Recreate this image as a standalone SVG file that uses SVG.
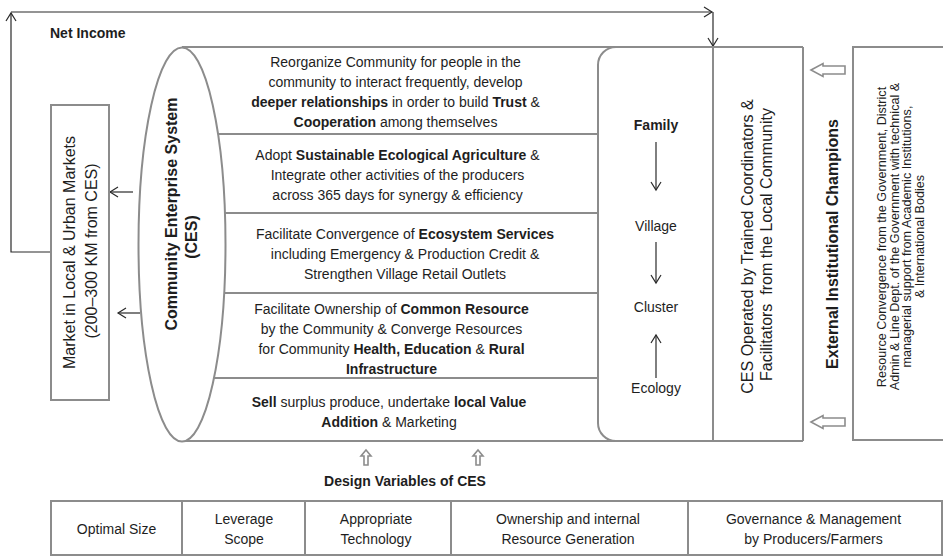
<svg xmlns="http://www.w3.org/2000/svg" width="943" height="557" viewBox="0 0 943 557">
  <style>
    .bd { fill: none; stroke: #8c8c8c; stroke-width: 2; }
    .bw { fill: #ffffff; stroke: #8c8c8c; stroke-width: 2; }
    .ho { fill: #ffffff; stroke: #8c8c8c; stroke-width: 1.6; stroke-linejoin: miter; }
    .cn { fill: none; stroke: #2a2a2a; stroke-width: 1.2; }
    .t { font-family: "Liberation Sans", Arial, Helvetica, sans-serif; font-size: 14px; fill: #1e1e1e; }
    .c { text-anchor: middle; }
    .b { font-weight: bold; }
    .l16 { font-size: 16px; }
    .s { font-size: 12.6px; }
  </style>
  <defs>
    <marker id="open" viewBox="0 0 9 12" refX="8.5" refY="6" markerWidth="9" markerHeight="12" markerUnits="userSpaceOnUse" orient="auto" overflow="visible">
      <path d="M0.5,1 L8.5,6 L0.5,11" fill="none" stroke="#2a2a2a" stroke-width="1.2"/>
    </marker>
  </defs>
  <rect width="943" height="557" fill="#ffffff"/>

  <!-- connectors -->
  <g id="connectors">
    <polyline class="cn" points="51,252 11,252 11,13" marker-end="url(#open)"/>
    <line class="cn" x1="11" y1="12" x2="712" y2="12" marker-end="url(#open)"/>
    <line class="cn" x1="713" y1="12" x2="713" y2="46" marker-end="url(#open)"/>
    <line class="cn" x1="133" y1="192" x2="110" y2="192" marker-end="url(#open)"/>
    <line class="cn" x1="140" y1="313" x2="118" y2="313" marker-end="url(#open)"/>
    <line class="cn" x1="656" y1="142" x2="656" y2="190" marker-end="url(#open)"/>
    <line class="cn" x1="656" y1="242" x2="656" y2="283" marker-end="url(#open)"/>
    <line class="cn" x1="656" y1="378" x2="656" y2="335" marker-end="url(#open)"/>
    <!-- hollow block arrows -->
    <path class="ho" d="M811,70 L823,63.5 L823,66 L845,66 L845,74 L823,74 L823,76.5 Z"/>
    <path class="ho" d="M811,422 L823,415.5 L823,418 L845,418 L845,426 L823,426 L823,428.5 Z"/>
    <path class="ho" d="M366,450 L371,456 L368,456 L368,465 L364,465 L364,456 L361,456 Z"/>
    <path class="ho" d="M478,450 L483,456 L480,456 L480,465 L476,465 L476,456 L473,456 Z"/>
  </g>

  <text class="t b" x="50" y="38">Net Income</text>

  <!-- market box -->
  <g id="market">
    <rect class="bd" x="51" y="105" width="58" height="295"/>
    <text class="t c l16" transform="translate(74.5,252.5) rotate(-90)">Market in Local &amp; Urban Markets</text>
    <text class="t c l16" transform="translate(97,251) rotate(-90)">(200–300 KM from CES)</text>
  </g>

  <!-- community enterprise system cylinder -->
  <g id="ces">
    <line class="bd" x1="182" y1="47" x2="803" y2="47"/>
    <line class="bd" x1="182" y1="441" x2="803" y2="441"/>
    <line class="bd" x1="182" y1="134" x2="598" y2="134"/>
    <line class="bd" x1="182" y1="213" x2="598" y2="213"/>
    <line class="bd" x1="182" y1="293" x2="598" y2="293"/>
    <line class="bd" x1="182" y1="378" x2="598" y2="378"/>
    <ellipse class="bw" cx="182" cy="244.5" rx="43.5" ry="197"/>
    <text class="t c b l16" transform="translate(177,214) rotate(-90)">Community Enterprise System</text>
    <text class="t c b l16" transform="translate(197,237) rotate(-90)">(CES)</text>
  </g>

  <g id="activity-1">
    <text class="t c" x="395.5" y="66.5">Reorganize Community for people in the</text>
    <text class="t c" x="395.5" y="86.5">community to interact frequently, develop</text>
    <text class="t c" x="395.5" y="106.5"><tspan class="b">deeper relationships</tspan> in order to build <tspan class="b">Trust</tspan> &amp;</text>
    <text class="t c" x="395.5" y="126.5"><tspan class="b">Cooperation</tspan> among themselves</text>
  </g>
  <g id="activity-2">
    <text class="t c" x="397.5" y="160">Adopt <tspan class="b">Sustainable Ecological Agriculture</tspan> &amp;</text>
    <text class="t c" x="397.5" y="180">Integrate other activities of the producers</text>
    <text class="t c" x="397.5" y="199.5">across 365 days for synergy  &amp; efficiency</text>
  </g>
  <g id="activity-3">
    <text class="t c" x="405" y="239">Facilitate Convergence of <tspan class="b">Ecosystem Services</tspan></text>
    <text class="t c" x="405" y="259">including Emergency &amp; Production Credit &amp;</text>
    <text class="t c" x="405" y="278.5">Strengthen Village Retail Outlets</text>
  </g>
  <g id="activity-4">
    <text class="t c" x="391.5" y="314">Facilitate Ownership of <tspan class="b">Common Resource</tspan></text>
    <text class="t c" x="391.5" y="334">by the Community &amp; Converge Resources</text>
    <text class="t c" x="391.5" y="354">for Community <tspan class="b">Health, Education</tspan> &amp; <tspan class="b">Rural</tspan></text>
    <text class="t c" x="391.5" y="373.5" font-weight="bold">Infrastructure</text>
  </g>
  <g id="activity-5">
    <text class="t c" x="389" y="407"><tspan class="b">Sell</tspan> surplus produce, undertake <tspan class="b">local Value</tspan></text>
    <text class="t c" x="389" y="427"><tspan class="b">Addition</tspan> &amp; Marketing</text>
  </g>

  <!-- scale column -->
  <g id="scale">
    <path class="bd" d="M616,47 A18,18 0 0 0 598,65 L598,423 A18,18 0 0 0 616,441"/>
    <text class="t c b" x="656" y="130">Family</text>
    <text class="t c" x="656" y="231">Village</text>
    <text class="t c" x="656" y="312">Cluster</text>
    <text class="t c" x="656" y="393">Ecology</text>
  </g>

  <!-- operators -->
  <g id="operators">
    <line class="bd" x1="713" y1="47" x2="713" y2="441"/>
    <line class="bd" x1="803" y1="47" x2="803" y2="441"/>
    <text class="t c l16" transform="translate(753,246.5) rotate(-90)">CES Operated by Trained Coordinators &amp;</text>
    <text class="t c l16" transform="translate(772,244.5) rotate(-90)" xml:space="preserve">Facilitators  from the Local Community</text>
  </g>

  <text class="t c b l16" transform="translate(838,244) rotate(-90)">External Institutional Champions</text>

  <!-- external support -->
  <g id="external">
    <rect class="bd" x="853" y="47" width="100" height="393"/>
    <text class="t c s" transform="translate(886,237) rotate(-90)">Resource Convergence from the Government, District</text>
    <text class="t c s" transform="translate(898.5,236.5) rotate(-90)">Admin &amp; Line Dept. of the Government with technical &amp;</text>
    <text class="t c s" transform="translate(911,236.5) rotate(-90)">managerial support from Academic Institutions,</text>
    <text class="t c s" transform="translate(923.5,236.5) rotate(-90)">&amp; International Bodies</text>
  </g>

  <text class="t c b" x="405" y="486">Design Variables of CES</text>

  <!-- design variables table -->
  <g id="design-variables">
    <rect class="bd" x="51" y="501" width="891" height="54"/>
    <line class="bd" x1="182" y1="501" x2="182" y2="555"/>
    <line class="bd" x1="305" y1="501" x2="305" y2="555"/>
    <line class="bd" x1="451" y1="501" x2="451" y2="555"/>
    <line class="bd" x1="688" y1="501" x2="688" y2="555"/>
    <text class="t c" x="116.5" y="534">Optimal Size</text>
    <text class="t c" x="244" y="524">Leverage</text>
    <text class="t c" x="244" y="544">Scope</text>
    <text class="t c" x="376" y="524">Appropriate</text>
    <text class="t c" x="376" y="544">Technology</text>
    <text class="t c" x="568" y="524">Ownership and internal</text>
    <text class="t c" x="568" y="544">Resource Generation</text>
    <text class="t c" x="813.5" y="524">Governance &amp; Management</text>
    <text class="t c" x="813.5" y="544">by Producers/Farmers</text>
  </g>
</svg>
